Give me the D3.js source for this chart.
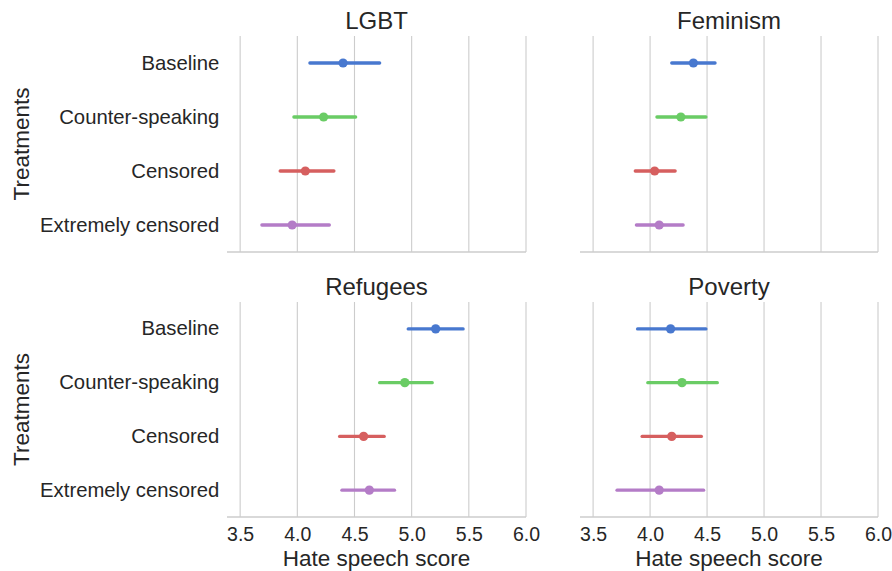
<!DOCTYPE html>
<html>
<head>
<meta charset="utf-8">
<script src="https://cdn.jsdelivr.net/npm/d3@7"></script>
<style>
  html, body { margin: 0; padding: 0; background: #fff; }
  svg text { font-family: "Liberation Sans", Arial, sans-serif; fill: #262626; }
</style>
</head>
<body>
<svg id="chart" width="892" height="571"></svg>
<script>
// ---- data ----
const categories = ["Baseline", "Counter-speaking", "Censored", "Extremely censored"];
const topics = ["LGBT", "Feminism", "Refugees", "Poverty"];
const xTicks = [3.5, 4.0, 4.5, 5.0, 5.5, 6.0];
const colors = ["#4878CF", "#6ACC65", "#D65F5F", "#B47CC7"];

const meanLGBT = [4.40, 4.23, 4.07, 3.955];
const lowLGBT  = [4.11, 3.97, 3.85, 3.69];
const highLGBT = [4.72, 4.51, 4.32, 4.28];

const meanFeminism = [4.38, 4.27, 4.04, 4.08];
const lowFeminism  = [4.19, 4.06, 3.87, 3.88];
const highFeminism = [4.57, 4.49, 4.22, 4.29];

const meanRefugees = [5.21, 4.94, 4.58, 4.63];
const lowRefugees  = [4.97, 4.72, 4.37, 4.39];
const highRefugees = [5.45, 5.18, 4.76, 4.85];

const meanPoverty = [4.18, 4.28, 4.19, 4.08];
const lowPoverty  = [3.89, 3.98, 3.93, 3.71];
const highPoverty = [4.49, 4.59, 4.45, 4.47];

const xDomain = [3.385, 6.0];

const panelData = {
  LGBT: [meanLGBT, lowLGBT, highLGBT],
  Feminism: [meanFeminism, lowFeminism, highFeminism],
  Refugees: [meanRefugees, lowRefugees, highRefugees],
  Poverty: [meanPoverty, lowPoverty, highPoverty]
};

// ---- layout ----
const svg = d3.select("#chart");
const cols = [[227, 526], [580, 878]];
const rows = [[36, 252], [302, 517]];

const xTickFont = 19.5, yTickFont = 20.3, labelFont = 22.5, titleFont = 24;

topics.forEach((topic, i) => {
  const c = i % 2, r = Math.floor(i / 2);
  const [x0, x1] = cols[c];
  const [y0, y1] = rows[r];
  const x = d3.scaleLinear().domain(xDomain).range([x0, x1]);
  const y = d3.scaleBand().domain(categories).range([y0, y1]).padding(0);
  const g = svg.append("g");

  // grid
  g.selectAll("line.grid").data(xTicks).join("line")
    .attr("x1", d => x(d)).attr("x2", d => x(d))
    .attr("y1", y0).attr("y2", y1)
    .attr("stroke", "#cccccc").attr("stroke-width", 1.1);

  // bottom spine
  g.append("line")
    .attr("x1", x0).attr("x2", x1).attr("y1", y1).attr("y2", y1)
    .attr("stroke", "#cccccc").attr("stroke-width", 1.3);

  // x tick labels on bottom row
  if (r === 1) {
    const ax = g.append("g").attr("transform", `translate(0,${y1})`)
      .call(d3.axisBottom(x).tickValues(xTicks).tickFormat(d3.format(".1f")).tickSize(0).tickPadding(10));
    ax.select(".domain").remove();
    ax.selectAll("text").attr("font-size", xTickFont).attr("fill", "#262626")
      .style("font-family", "'Liberation Sans', Arial, sans-serif");
    g.append("text")
      .attr("x", (x0 + x1) / 2).attr("y", 565.5)
      .attr("text-anchor", "middle").attr("font-size", labelFont)
      .text("Hate speech score");
  }

  // y tick labels on left column
  if (c === 0) {
    const ay = g.append("g").attr("transform", `translate(${x0},0)`)
      .call(d3.axisLeft(y).tickSize(0).tickPadding(7.7));
    ay.select(".domain").remove();
    ay.selectAll("text").attr("font-size", yTickFont).attr("fill", "#262626")
      .style("font-family", "'Liberation Sans', Arial, sans-serif");
    g.append("text")
      .attr("transform", `translate(29,${(y0 + y1) / 2}) rotate(-90)`)
      .attr("text-anchor", "middle").attr("font-size", labelFont)
      .text("Treatments");
  }

  // title
  g.append("text")
    .attr("x", (x0 + x1) / 2).attr("y", y0 - 6.7)
    .attr("text-anchor", "middle").attr("font-size", titleFont)
    .text(topic);

  // marks
  const [mean, lo, hi] = panelData[topic];
  const rowsData = categories.map((cat, k) => ({cat, m: mean[k], lo: lo[k], hi: hi[k], col: colors[k]}));
  g.selectAll("line.err").data(rowsData).join("line")
    .attr("x1", d => x(d.lo)).attr("x2", d => x(d.hi))
    .attr("y1", d => y(d.cat) + y.bandwidth() / 2)
    .attr("y2", d => y(d.cat) + y.bandwidth() / 2)
    .attr("stroke", d => d.col).attr("stroke-width", 3.3).attr("stroke-linecap", "round");
  g.selectAll("circle.pt").data(rowsData).join("circle")
    .attr("cx", d => x(d.m))
    .attr("cy", d => y(d.cat) + y.bandwidth() / 2)
    .attr("r", 4.6)
    .attr("fill", d => d.col);
});
</script>
</body>
</html>
